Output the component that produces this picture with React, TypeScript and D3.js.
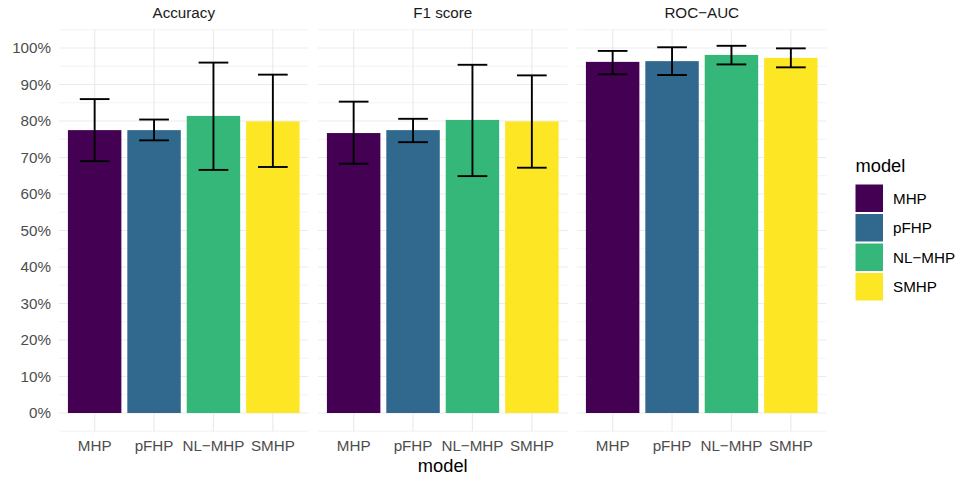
import React from 'react';
import * as d3 from 'd3';

const models = ['MHP', 'pFHP', 'NL\u2212MHP', 'SMHP'];
const metrics = ['Accuracy', 'F1 score', 'ROC\u2212AUC'];
const colors = ['#440154', '#31688E', '#35B779', '#FDE725'];

const accuracyMean = [0.775, 0.775, 0.814, 0.799];
const accuracyLow = [0.69, 0.747, 0.666, 0.674];
const accuracyHigh = [0.86, 0.804, 0.96, 0.927];

const f1Mean = [0.767, 0.775, 0.803, 0.799];
const f1Low = [0.683, 0.742, 0.649, 0.672];
const f1High = [0.853, 0.806, 0.954, 0.925];

const aucMean = [0.962, 0.964, 0.981, 0.973];
const aucLow = [0.928, 0.926, 0.955, 0.947];
const aucHigh = [0.992, 1.002, 1.006, 0.999];

const yTicks = [0, 0.1, 0.2, 0.3, 0.4, 0.5, 0.6, 0.7, 0.8, 0.9, 1.0];
const yMinor = [-0.05, 0.05, 0.15, 0.25, 0.35, 0.45, 0.55, 0.65, 0.75, 0.85, 0.95, 1.05];

const panels = [
  { name: metrics[0], mean: accuracyMean, low: accuracyLow, high: accuracyHigh },
  { name: metrics[1], mean: f1Mean, low: f1Low, high: f1High },
  { name: metrics[2], mean: aucMean, low: aucLow, high: aucHigh },
];

const W = 961;
const H = 481;
const font = '"Liberation Sans", Arial, Helvetica, sans-serif';
const small = 15.2;
const big = 18.3;
const panelLeft = 59;
const panelW = 249.5;
const panelGap = 9.5;
const top = 29.75;
const bottom = 431.25;

export default function App() {
  const y = d3.scaleLinear().domain([-0.05, 1.05]).range([bottom, top]);
  const fmt = d3.format('.0%');

  return (
    <svg width={W} height={H} style={{ position: 'absolute', left: 0, top: 0, background: '#fff' }}>
      {panels.map((p, pi) => {
        const x0 = panelLeft + pi * (panelW + panelGap);
        const x = d3.scaleLinear().domain([0.4, 4.6]).range([x0, x0 + panelW]);
        return (
          <g key={p.name}>
            {yMinor.map(t => (
              <line key={'mi' + t} x1={x0} x2={x0 + panelW} y1={y(t)} y2={y(t)} stroke="#EBEBEB" strokeWidth={0.6} />
            ))}
            {yTicks.map(t => (
              <line key={'ma' + t} x1={x0} x2={x0 + panelW} y1={y(t)} y2={y(t)} stroke="#EBEBEB" strokeWidth={1.2} />
            ))}
            {models.map((m, i) => (
              <line key={'v' + m} x1={x(i + 1)} x2={x(i + 1)} y1={top} y2={bottom} stroke="#EBEBEB" strokeWidth={1.2} />
            ))}
            {models.map((m, i) => (
              <rect key={'b' + m} x={x(i + 1 - 0.45)} width={x(i + 1.45) - x(i + 0.55)}
                y={y(p.mean[i])} height={y(0) - y(p.mean[i])} fill={colors[i]} />
            ))}
            {models.map((m, i) => (
              <g key={'e' + m} stroke="#000" strokeWidth={1.9} fill="none">
                <line x1={x(i + 1)} x2={x(i + 1)} y1={y(p.low[i])} y2={y(p.high[i])} />
                <line x1={x(i + 0.75)} x2={x(i + 1.25)} y1={y(p.low[i])} y2={y(p.low[i])} />
                <line x1={x(i + 0.75)} x2={x(i + 1.25)} y1={y(p.high[i])} y2={y(p.high[i])} />
              </g>
            ))}
            <text x={x0 + panelW / 2} y={18} textAnchor="middle" fontFamily={font} fontSize={small} fill="#1A1A1A">
              {p.name}
            </text>
            {models.map((m, i) => (
              <text key={'t' + m} x={x(i + 1)} y={451} textAnchor="middle" fontFamily={font} fontSize={small} fill="#4D4D4D">
                {m}
              </text>
            ))}
          </g>
        );
      })}
      {yTicks.map(t => (
        <text key={'yl' + t} x={51} y={y(t)} dy="0.36em" textAnchor="end" fontFamily={font} fontSize={small} fill="#4D4D4D">
          {fmt(t)}
        </text>
      ))}
      <text x={panelLeft + (3 * panelW + 2 * panelGap) / 2} y={472} textAnchor="middle" fontFamily={font} fontSize={big} fill="#000">
        model
      </text>
      <g>
        <text x={855.5} y={172} fontFamily={font} fontSize={big} fill="#000">model</text>
        {models.map((m, i) => (
          <g key={'lg' + m}>
            <rect x={855.5} y={184.5 + i * 29.5} width={27.5} height={27.5} fill={colors[i]} />
            <text x={893} y={184.5 + i * 29.5 + 13.75} dy="0.36em" fontFamily={font} fontSize={small} fill="#000">
              {m}
            </text>
          </g>
        ))}
      </g>
    </svg>
  );
}
